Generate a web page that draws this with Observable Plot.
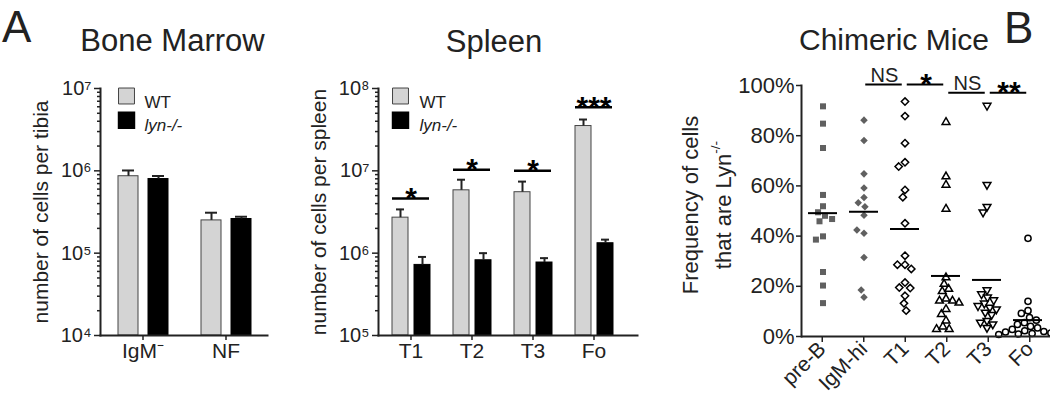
<!DOCTYPE html>
<html><head><meta charset="utf-8">
<script src="https://cdn.jsdelivr.net/npm/d3@7"></script>
<script src="https://cdn.jsdelivr.net/npm/@observablehq/plot@0.6"></script>
<style>
body{margin:0;background:#fff;}
#c{position:relative;width:1050px;height:404px;overflow:hidden;font-family:"Liberation Sans",Arial,Helvetica,sans-serif;color:#222;}
.t{position:absolute;line-height:0.8;white-space:nowrap;}
</style></head><body><div id="c"></div>
<script>
// ---------------- data ----------------
const groups = ["WT", "lyn-/-"];

const bmCategories = ["IgM⁻", "NF"];
const bmWT = [8.6e5, 2.5e5];
const bmWTsem = [1.5e5, 0.6e5];
const bmLyn = [7.95e5, 2.6e5];
const bmLynSem = [0.7e5, 0.17e5];

const spCategories = ["T1", "T2", "T3", "Fo"];
const spWT = [2.7e6, 5.8e6, 5.5e6, 3.5e7];
const spWTsem = [0.7e6, 2.0e6, 1.9e6, 0.7e7];
const spLyn = [7.2e5, 8.2e5, 7.7e5, 1.32e6];
const spLynSem = [1.8e5, 1.8e5, 1.0e5, 1.4e5];
const spSigLabels = ["*", "*", "*", "***"];
const spSigLevels = [4.6e6, 1.03e7, 1.0e7, 5.9e7];

const chCategories = ["pre-B", "IgM-hi", "T1", "T2", "T3", "Fo"];
const chPreB = [91.7, 84.8, 75.1, 56.4, 51.9, 49.5, 48.1, 45.9, 46.8, 39.9, 38.6, 25.7, 20.3, 13.3];
const chIgMhi = [86.2, 78.1, 64.8, 59.2, 55.4, 53.3, 51.7, 48.3, 41.1, 42.4, 31.5, 15.6, 18.5];
const chT1 = [93.6, 87.8, 77.0, 69.4, 67.7, 58.4, 55.5, 45.1, 32.2, 28.6, 28.6, 26.9, 21.5, 19.5, 19.3, 16.2, 13.2, 10.3];
const chT2 = [85.4, 63.7, 60.4, 50.8, 23.5, 20.9, 18.9, 18.0, 15.0, 14.2, 14.2, 13.4, 10.9, 8.9, 6.3, 3.9, 2.9, 2.9];
const chT3 = [92.0, 60.5, 51.7, 49.5, 18.5, 16.9, 15.6, 14.5, 13.2, 12.2, 11.6, 10.9, 9.6, 8.7, 6.3, 5.6, 4.9, 3.5];
const chFo = [39.1, 14.0, 10.3, 9.2, 7.5, 6.5, 5.5, 4.8, 4.0, 3.4, 2.8, 2.3, 2.0, 1.8, 1.4, 1.2, 1.0, 0.8];
const chSigPairs = [["IgM-hi", "T1"], ["T1", "T2"], ["T2", "T3"], ["T3", "Fo"]];
const chSigLabels = ["NS", "*", "NS", "**"];
const chSigLevels = [100.4, 100.4, 97.1, 97.1];
const chYTicks = [0, 20, 40, 60, 80, 100];

// ---------------- helpers ----------------
const FONT = '"Liberation Sans", Arial, Helvetica, sans-serif';
const INK = "#222";
const SUP = {"0":"⁰","1":"¹","2":"²","3":"³","4":"⁴","5":"⁵","6":"⁶","7":"⁷","8":"⁸","9":"⁹"};
const pow10 = d => "10" + String(Math.round(Math.log10(d))).split("").map(c => SUP[c]).join("");
const root = document.getElementById("c");
function place(node, left) {
  const w = document.createElement("div");
  w.style.cssText = `position:absolute;left:${left}px;top:0px;`;
  w.appendChild(node); root.appendChild(w);
}
function title(text, {cx, left, baseline, size}) {
  const d = document.createElement("div");
  d.className = "t"; d.textContent = text;
  d.style.fontSize = size + "px";
  d.style.top = Math.max(0, baseline - 0.7465 * size) + "px";
  if (cx != null) { d.style.left = (cx - 150) + "px"; d.style.width = "300px"; d.style.textAlign = "center"; }
  else d.style.left = left + "px";
  root.appendChild(d);
}
function logTicks(domain) {
  const lo = Math.round(Math.log10(domain[0])), hi = Math.round(Math.log10(domain[1]));
  const major = d3.range(lo, hi + 1).map(e => 10 ** e);
  const minor = d3.range(lo, hi).flatMap(e => d3.range(2, 10).map(m => m * 10 ** e));
  return {major, minor};
}
const style = {fontFamily: FONT, color: INK, background: "transparent", overflow: "visible"};

// ---------------- bar panels ----------------
function barPanel(cfg) {
  const {cats, wt, wtSem, lyn, lynSem, domain, ylabel, left, width, ml, mr, mrAxis, padIn, padOut,
         sigLabels, sigLevels, sqDx, txDx, sigInset} = cfg;
  const rows = cats.flatMap((c, i) => [
    {cat: c, g: groups[0], v: wt[i], top: wt[i] + wtSem[i]},
    {cat: c, g: groups[1], v: lyn[i], top: lyn[i] + lynSem[i]}
  ]);
  const sig = sigLabels ? cats.map((c, i) => ({cat: c, label: sigLabels[i], level: sigLevels[i]})) : [];
  const common = {width, height: 404, marginLeft: ml, marginTop: 88, marginBottom: 69, style};
  const bars = Plot.plot({
    ...common, marginRight: mr,
    fx: {domain: cats, padding: 0, axis: null},
    x: {domain: groups, paddingInner: padIn, paddingOuter: padOut, axis: null},
    y: {type: "log", domain, axis: null},
    marks: [
      Plot.barY(rows.filter(d => d.g === groups[0]), {fx: "cat", x: "g", y1: domain[0], y2: "v", fill: "#d4d4d4", stroke: "#444", strokeWidth: 1}),
      Plot.barY(rows.filter(d => d.g === groups[1]), {fx: "cat", x: "g", y1: domain[0], y2: "v", fill: "#000", stroke: "#000", strokeWidth: 1}),
      Plot.ruleX(rows, {fx: "cat", x: "g", y1: "v", y2: "top", stroke: INK, strokeWidth: 2}),
      Plot.tickY(rows, {fx: "cat", x: "g", y: "top", stroke: INK, strokeWidth: 2, inset: 4}),
      Plot.axisFx({anchor: "bottom", tickSize: 5, tickPadding: 3, fontSize: 21, strokeWidth: 1.5, label: null}),
      Plot.ruleY(sig, {fx: "cat", y: "level", stroke: "#000", strokeWidth: 2.5, insetLeft: sigInset, insetRight: sigInset}),
      Plot.text(sig, {fx: "cat", y: "level", text: "label", fontSize: 30, fontWeight: "bold", fill: "#000"})
    ]
  });
  const {major, minor} = logTicks(domain);
  const over = Plot.plot({
    ...common, marginRight: mrAxis,
    y: {type: "log", domain},
    marks: [
      Plot.frame({anchor: "left", stroke: INK, strokeWidth: 2}),
      Plot.frame({anchor: "bottom", stroke: INK, strokeWidth: 2}),
      Plot.axisY(minor, {tickSize: 3, tickFormat: () => "", strokeWidth: 1.5, fontSize: 21,
        label: ylabel, labelAnchor: "center", labelArrow: "none", labelOffset: 67}),
      Plot.axisY(major, {tickSize: 6, tickPadding: 3, tickFormat: pow10, strokeWidth: 1.5, fontSize: 20, label: null}),
      Plot.dot([groups[0]], {frameAnchor: "top-left", dx: sqDx, dy: 7.5, symbol: "square", r: 9, fill: "#d4d4d4", stroke: "#444", strokeWidth: 1}),
      Plot.dot([groups[1]], {frameAnchor: "top-left", dx: sqDx, dy: 31.7, symbol: "square", r: 9, fill: "#000", stroke: "#000"}),
      Plot.text([groups[0]], {frameAnchor: "top-left", dx: txDx, dy: 7.6, text: d => d, textAnchor: "start", fontSize: 17}),
      Plot.text([groups[1]], {frameAnchor: "top-left", dx: txDx, dy: 30.5, text: d => d, textAnchor: "start", fontSize: 17, fontStyle: "italic"})
    ]
  });
  place(bars, left); place(over, left);
}

barPanel({cats: bmCategories, wt: bmWT, wtSem: bmWTsem, lyn: bmLyn, lynSem: bmLynSem,
  domain: [1e4, 1e7], ylabel: "number of cells per tibia", left: 0, width: 280, ml: 100, mr: 13, mrAxis: 13,
  padIn: 0.35, padOut: 0.52, sqDx: 26, txDx: 44, sigInset: 12});

barPanel({cats: spCategories, wt: spWT, wtSem: spWTsem, lyn: spLyn, lynSem: spLynSem,
  domain: [1e5, 1e8], ylabel: "number of cells per spleen", left: 280, width: 360, ml: 98, mr: 15, mrAxis: 3,
  padIn: 0.29, padOut: 0.49, sigLabels: spSigLabels, sigLevels: spSigLevels, sqDx: 22, txDx: 41, sigInset: 12});

// ---------------- chimeric mice ----------------
const triangleDown = {
  draw(context, size) {
    const y = -Math.sqrt(size / (Math.sqrt(3) * 3));
    context.moveTo(0, -y * 2);
    context.lineTo(-Math.sqrt(3) * y, y);
    context.lineTo(Math.sqrt(3) * y, y);
    context.closePath();
  }
};
const chValues = [chPreB, chIgMhi, chT1, chT2, chT3, chFo];
const chRows = chCategories.flatMap((c, i) => chValues[i].map(v => ({cat: c, v})));
const chStyles = [
  {symbol: "square", r: 3.4, fill: "#606060", stroke: "none", padding: 0},
  {symbol: "diamond2", r: 3.4, fill: "#606060", stroke: "none", padding: 0},
  {symbol: "diamond2", r: 3.3, fill: "none", stroke: "#000", strokeWidth: 1.5, padding: -0.5},
  {symbol: "triangle", r: 2.9, fill: "none", stroke: "#000", strokeWidth: 1.5, padding: -1},
  {symbol: triangleDown, r: 2.9, fill: "none", stroke: "#000", strokeWidth: 1.5, padding: -1},
  {symbol: "circle", r: 3.1, fill: "none", stroke: "#000", strokeWidth: 1.5, padding: -2.5}
];
const commonB = {width: 410, height: 404, marginLeft: 161, marginRight: 1, marginTop: 85, marginBottom: 68, style};
const dotsB = Plot.plot({
  ...commonB,
  fx: {domain: chCategories, padding: 0, axis: null},
  y: {domain: [0, 100], axis: null},
  marks: [
    ...chCategories.map((c, i) => Plot.dot(chRows.filter(d => d.cat === c),
      Plot.dodgeX("middle", {fx: "cat", y: "v", ...chStyles[i]}))),
    Plot.tickY(chRows, Plot.groupZ({y: "mean"}, {fx: "cat", y: "v", stroke: "#000", strokeWidth: 2, insetLeft: 6, insetRight: 6}))
  ]
});
const idx = c => chCategories.indexOf(c);
const sigB = chSigPairs.map((p, i) => ({a: idx(p[0]), b: idx(p[1]), label: chSigLabels[i], level: chSigLevels[i]}));
const isStar = d => /^\*+$/.test(d.label);
const chYLabel = "Frequency of cells\nthat are Lyn-/-";
const overB = Plot.plot({
  ...commonB, marginRight: 0,
  x: {domain: [-0.5, chCategories.length - 0.5], axis: null},
  y: {domain: [0, 100]},
  marks: [
    Plot.frame({anchor: "left", stroke: INK, strokeWidth: 2}),
    Plot.ruleY([0], {stroke: INK, strokeWidth: 2}),
    Plot.axisY(chYTicks, {tickSize: 5, tickPadding: 2, tickFormat: d => d + "%", fontSize: 22, strokeWidth: 1.5, label: null}),
    Plot.axisX(d3.range(chCategories.length), {tickSize: 6, tickPadding: 3, tickFormat: i => chCategories[i], tickRotate: -45, fontSize: 21, strokeWidth: 1.5, label: null, fill: INK}),
    Plot.ruleY(sigB, {x1: "a", x2: "b", y: "level", stroke: "#000", strokeWidth: 2, insetLeft: 2, insetRight: 3}),
    Plot.text(sigB.filter(d => !isStar(d)), {x: d => (d.a + d.b) / 2, y: "level", text: "label", fontSize: 20, dy: -9.4, fill: INK}),
    Plot.text(sigB.filter(isStar), {x: d => (d.a + d.b) / 2, y: "level", text: "label", fontSize: 30, fontWeight: "bold", fill: "#000"}),
    Plot.text([chYLabel], {frameAnchor: "left", rotate: -90, textAnchor: "middle", lineAnchor: "top", dx: -127, dy: -6, lineHeight: 1.5, fontSize: 22, text: d => d, fill: INK})
  ]
});
d3.select(overB).selectAll("tspan").each(function () {
  const t = this.textContent;
  if (t.endsWith("Lyn-/-")) {
    this.textContent = t.slice(0, -3);
    const s = document.createElementNS("http://www.w3.org/2000/svg", "tspan");
    s.setAttribute("font-size", "0.62em");
    s.setAttribute("dy", "-0.8em");
    s.textContent = "-/-";
    this.appendChild(s);
  }
});
place(dotsB, 640); place(overB, 640);

// ---------------- titles ----------------
title("A", {left: 2, baseline: 42, size: 44});
title("B", {left: 1004, baseline: 42.5, size: 44});
title("Bone Marrow", {cx: 172.5, baseline: 52, size: 31});
title("Spleen", {cx: 494, baseline: 53, size: 31});
title("Chimeric Mice", {cx: 894, baseline: 50, size: 30});
</script></body></html>
